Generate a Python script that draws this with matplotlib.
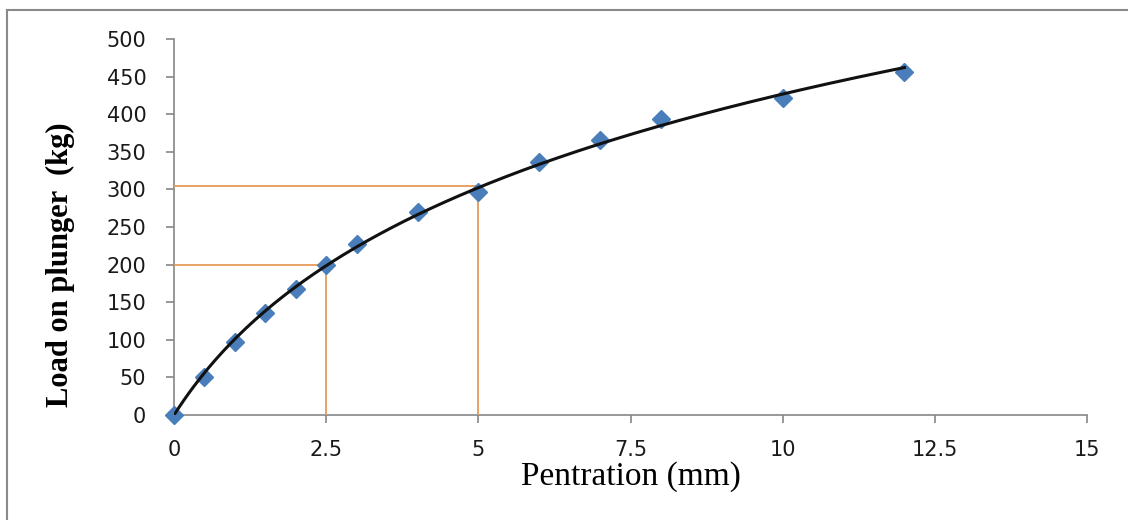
import matplotlib as mpl
import matplotlib.pyplot as plt
from matplotlib.lines import Line2D
import numpy as np

# Penetration test readings
penetration = [0, 0.5, 1, 1.5, 2, 2.5, 3, 4, 5, 6, 7, 8, 10, 12]
load = [0, 50, 97, 136, 168, 200, 228, 270, 297, 336, 366, 394, 421, 456]

# Guide lines: load at 2.5 mm and 5 mm
guide_x = [2.5, 5]
guide_y = [200, 305]

xticks = [0, 2.5, 5, 7.5, 10, 12.5, 15]
xtick_labels = ['0', '2.5', '5', '7.5', '10', '12.5', '15']
yticks = list(range(0, 501, 50))

fig = plt.figure(figsize=(11.28, 5.2), dpi=100, facecolor='w')
ax = fig.add_axes([0.1543, 0.2019, 0.8094, 0.723])

# frame around the picture (only top and left visible in the source)
fig.add_artist(Line2D([7 / 1128, 7 / 1128], [0, 1 - 10 / 520], transform=fig.transFigure,
                      color='#8a8a8a', lw=1.5))
fig.add_artist(Line2D([7 / 1128, 1], [1 - 10 / 520, 1 - 10 / 520], transform=fig.transFigure,
                      color='#8a8a8a', lw=1.5))

orange = '#E49B58'
for gx, gy in zip(guide_x, guide_y):
    ax.plot([0, gx], [gy, gy], color=orange, lw=1.3, zorder=2)
    ax.plot([gx, gx], [0, gy], color=orange, lw=1.3, zorder=2)

# smooth trend line y = a*ln(1 + b*x) fitted to the readings
x_arr = np.array(penetration, dtype=float)
y_arr = np.array(load, dtype=float)
best = None
for b in np.linspace(0.05, 2.0, 400):
    f = np.log1p(b * x_arr)
    a = (f @ y_arr) / (f @ f)
    err = np.sum((a * f - y_arr) ** 2)
    if best is None or err < best[0]:
        best = (err, a, b)
_, a_fit, b_fit = best
xs = np.linspace(0, max(penetration), 300)
ax.plot(xs, a_fit * np.log1p(b_fit * xs), color='#111111', lw=2.2, zorder=4)

ax.plot(penetration, load, ls='none', marker='D', ms=9, color='#4A7EBB',
        mec='#4A7EBB', zorder=3, clip_on=False)

ax.set_xlim(0, 15)
ax.set_ylim(0, 500)
ax.set_xticks(xticks)
ax.set_xticklabels(xtick_labels)
ax.set_yticks(yticks)

for side in ['top', 'right']:
    ax.spines[side].set_visible(False)
for side in ['left', 'bottom']:
    ax.spines[side].set_color('#868686')
    ax.spines[side].set_linewidth(1.2)
ax.spines['left'].set_zorder(1)
ax.spines['bottom'].set_zorder(1)

ax.tick_params(axis='both', direction='out', length=6, width=1.2, color='#868686',
               labelsize=15, labelcolor='#1a1a1a', pad=12)
ax.tick_params(axis='y', pad=14)

ax.set_xlabel('Pentration (mm)', family='Liberation Serif', fontsize=24, labelpad=1)
ax.set_ylabel('Load on plunger  (kg)', family='Liberation Serif', fontsize=22,
              fontweight='bold')
ax.yaxis.set_label_coords(-0.108, 0.40)

fig.savefig('out.png', dpi=100, facecolor='w')
